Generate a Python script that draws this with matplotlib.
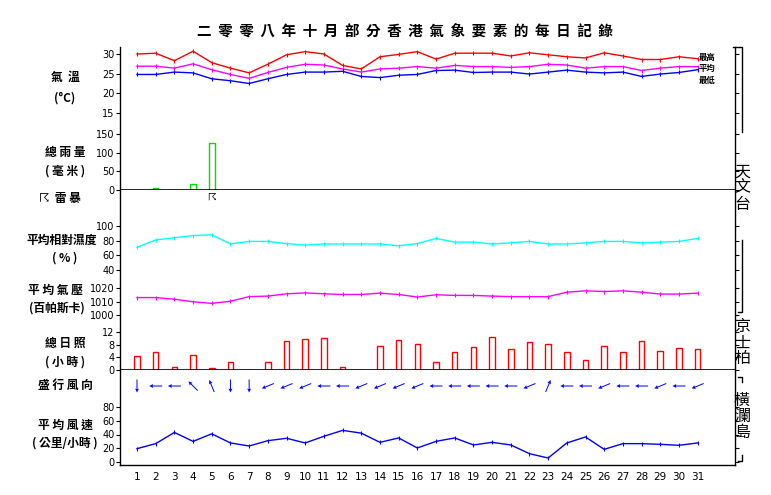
import matplotlib
matplotlib.use("Agg")
import matplotlib.pyplot as plt
import numpy as np
from matplotlib.lines import Line2D

plt.rcParams['font.family'] = ['Noto Sans CJK TC', 'DejaVu Sans']

days = list(range(1, 32))
t_max = [30.0,30.2,28.3,30.7,27.8,26.4,25.2,27.4,29.8,30.6,30.0,27.1,26.2,29.3,29.9,30.6,28.7,30.2,30.2,30.2,29.5,30.3,29.8,29.3,29.0,30.3,29.5,28.6,28.6,29.3,28.8]
t_mean = [26.9,26.9,26.4,27.5,26.0,24.8,23.8,25.3,26.6,27.4,27.2,26.2,25.4,26.2,26.4,26.8,26.4,27.1,26.8,26.8,26.6,26.8,27.4,27.2,26.4,26.8,26.8,25.8,26.4,26.8,26.8]
t_min = [24.8,24.8,25.4,25.2,23.7,23.2,22.5,23.7,24.8,25.4,25.4,25.6,24.3,24.0,24.6,24.8,25.8,25.9,25.3,25.4,25.4,24.9,25.4,25.9,25.4,25.2,25.4,24.3,24.9,25.3,26.0]
rain = [0,4.5,1.0,15,125,0,0,0.5,0,0,0,0,0.5,0,0,0,0.3,0,0.5,0,0,0,0,0,0,0,0,0.3,0,0,0]
thunder_days = [5]
humidity = [71,81,84,87,88,75.5,79,79,76,74,75.5,75.5,75.5,75.5,73,76,83,78,78,75.5,77,79,75.5,75.5,77,79,79,77,78,79,83]
pressure = [1012.9,1012.9,1011.7,1009.8,1008.6,1010.2,1013.6,1014.0,1015.7,1016.4,1015.7,1015.2,1015.2,1016.2,1015.2,1013.3,1015.0,1014.5,1014.5,1014.0,1013.6,1013.6,1013.6,1016.9,1017.9,1017.4,1017.9,1016.9,1015.5,1015.5,1016.2]
sunshine = [4.3,5.6,0.9,4.7,0.5,2.4,0,2.4,9.1,9.8,10.1,0.9,0,7.6,9.5,8.3,2.4,5.6,7.2,10.4,6.6,8.8,8.3,5.6,3.1,7.6,5.6,9.1,6.0,6.9,6.6]
wind_dir = ["N","E","E","SE","SSE","N","N","ENE","ENE","ENE","E","E","ENE","ENE","ENE","ENE","E","E","E","E","E","ENE","SSW","E","E","ENE","E","E","ENE","E","ENE"]
wind_speed = [19.4,26.7,43,30,41,27.7,23.3,31,34.5,27.7,37.4,46,42,28.6,35,20.4,30,35,24.8,28.6,24.8,12.1,5.8,27.7,36.4,18.4,26.7,26.7,25.7,24.3,27.7]

title = "二零零八年十月部分香港氣象要素的每日記錄"
compass = {"N":0,"NNE":22.5,"NE":45,"ENE":67.5,"E":90,"ESE":112.5,"SE":135,"SSE":157.5,
           "S":180,"SSW":202.5,"SW":225,"WSW":247.5,"W":270,"WNW":292.5,"NW":315,"NNW":337.5}

W, H = 771, 495
fig = plt.figure(figsize=(W/100, H/100), dpi=100)
XL = (0.09, 33.0)
AX_L, AX_R = 120, 735

def rect(ptop, pbot):
    return [AX_L/W, 1-pbot/H, (AX_R-AX_L)/W, (pbot-ptop)/H]

def P(x, y):
    return (x/W, 1-y/H)

m = fig.add_axes(rect(47, 465))
m.set_xlim(*XL); m.set_ylim(0, 1)
m.spines['top'].set_visible(False)
for s in m.spines.values(): s.set_linewidth(1)
m.set_yticks([])
m.set_xticks(days)
m.set_xticklabels([str(d) for d in days], fontsize=7.5, family='DejaVu Sans')
m.tick_params(axis='x', length=0, pad=5)
m.patch.set_alpha(0)

def panel(ptop, pbot, pa, va, pb, vb, ticks):
    ax = fig.add_axes(rect(ptop, pbot))
    k = (pa-pb)/(vb-va)
    lo = va - (pbot-pa)/k
    hi = vb + (pb-ptop)/k
    ax.set_xlim(*XL); ax.set_ylim(lo, hi)
    for s in ax.spines.values(): s.set_visible(False)
    ax.patch.set_alpha(0)
    ax.set_xticks([])
    ax.set_yticks(ticks)
    ax.set_yticklabels([str(t) for t in ticks], fontsize=7, family='DejaVu Sans')
    ax.tick_params(axis='y', left=True, right=True, direction='out', length=3, pad=1, width=0.8)
    return ax

mk = dict(marker='|', markersize=3, markeredgewidth=0.8, linewidth=1)
a = panel(47, 130, 113, 15, 54, 30, [15, 20, 25, 30])
a.plot(days, t_max, color='red', **mk)
a.plot(days, t_mean, color='magenta', **mk)
a.plot(days, t_min, color='blue', **mk)
a = panel(130, 190, 190, 0, 134, 150, [0, 50, 100, 150])
a.bar(days, rain, width=0.3, fill=False, edgecolor='#00e000', linewidth=1)
a.axhline(0, color='black', linewidth=1.2)
for d in thunder_days:
    a.text(d, -4, "☈", ha='center', va='top', fontsize=7, family='DejaVu Sans')
a = panel(215, 275, 270, 40, 226, 100, [40, 60, 80, 100])
a.plot(days, humidity, color='cyan', **mk)
a = panel(280, 318, 315, 1000, 288, 1020, [1000, 1010, 1020])
a.plot(days, pressure, color='magenta', **mk)
a = panel(325, 370, 370, 0, 332, 12, [0, 4, 8, 12])
a.bar(days, sunshine, width=0.3, fill=False, edgecolor='red', linewidth=1)
a.axhline(0, color='black', linewidth=1.2)
a = fig.add_axes(rect(372, 400))
a.set_xlim(*XL); a.set_ylim(0, 1); a.axis('off')
to = np.radians([(compass[d]+180) % 360 for d in wind_dir])
a.quiver(days, [0.5]*31, np.sin(to), np.cos(to), angles='uv', pivot='mid',
         scale_units='inches', scale=1/0.13, color='blue', width=0.0016,
         headwidth=4, headlength=4, headaxislength=3.5)
a = panel(402, 465, 462, 0, 407, 80, [0, 20, 40, 60, 80])
a.plot(days, wind_speed, color='blue', **mk)

fig.text(*P(405, 32), "  ".join(title), ha='center', va='center', fontsize=10.5, fontweight='bold')

labels = [(65, 77, "氣  溫"), (65, 98, "(°C)"), (65, 152, "總 雨 量"), (65, 171, "( 毫 米 )"),
          (62, 240, "平均相對濕度"), (65, 258, "( % )"), (55, 290, "平 均 氣 壓"), (57, 308, "(百帕斯卡)"),
          (65, 343, "總 日 照"), (65, 362, "( 小 時 )"), (65, 385, "盛 行 風 向"),
          (65, 425, "平 均 風 速"), (65, 443, "( 公里/小時 )")]
for x, y, s in labels:
    fig.text(*P(x, y), s, ha='center', va='center', fontsize=8.5, fontweight='bold')
fig.text(*P(60, 199), "☈  雷 暴", ha='center', va='center', fontsize=8.5, fontweight='bold')

for y, s in [(57, "最高"), (68, "平均"), (80, "最低")]:
    fig.text(*P(699, y), s, ha='left', va='center', fontsize=6, fontweight='bold')

def ln(pts):
    xs = [p[0]/W for p in pts]; ys = [1-p[1]/H for p in pts]
    fig.add_artist(Line2D(xs, ys, color='black', linewidth=1))
ln([(733, 47), (742, 47), (742, 132)])
ln([(742, 240), (742, 312), (738, 312)])
ln([(738, 377), (742, 377), (742, 382)])
ln([(742, 455), (742, 461), (738, 461)])
for y0, s in [(172, "天文台"), (327, "京士柏"), (400, "橫瀾島")]:
    for i, ch in enumerate(s):
        fig.text(*P(742, y0 + i*16), ch, ha='center', va='center', fontsize=11.5)

fig.savefig("out.png", dpi=100)
